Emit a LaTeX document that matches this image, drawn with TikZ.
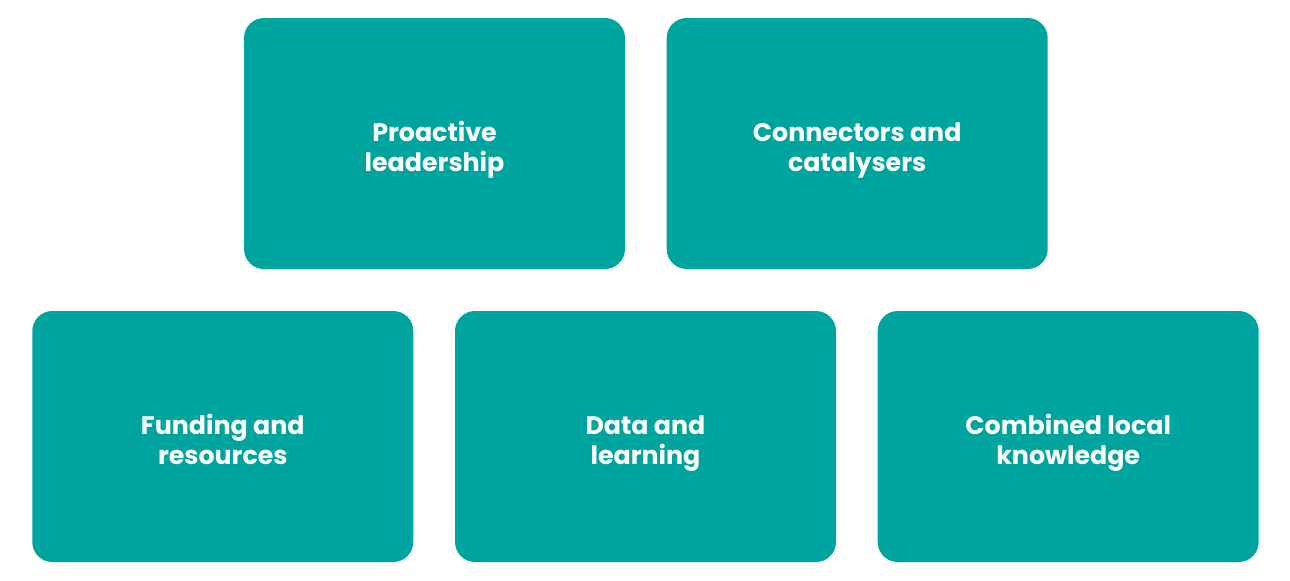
\documentclass[tikz,border=0pt]{standalone}
\usepackage{fontspec}
\setmainfont{Poppins}
\usepackage{xcolor}
\usepackage{tikz}
\usetikzlibrary{positioning}
\definecolor{tealbox}{RGB}{0,164,159}
\newcommand{\factorfont}{\fontsize{14.4}{17.07}\selectfont\bfseries\setlength{\lineskiplimit}{-100pt}}

\begin{document}
\begin{tikzpicture}[
    node distance=0.82cm,
    factor/.style={fill=tealbox, rounded corners=0.4cm, align=center, minimum width=7.62cm, minimum height=5.02cm, text=white, text height=1.5cm, text depth=0.38cm, font=\factorfont}
]
    \useasboundingbox (0,0) rectangle (25.8,-11.6);
    \node[factor] (leader) at (8.69,-2.87) {Proactive\\leadership};
    \node[factor, right=of leader] (connect) {Connectors and\\catalysers};
    \node[factor] (data) at (12.91,-8.73) {Data and\\learning};
    \node[factor, left=of data] (funding) {Funding and\\resources};
    \node[factor, right=of data] (local) {Combined local\\knowledge};
\end{tikzpicture}
\end{document}
